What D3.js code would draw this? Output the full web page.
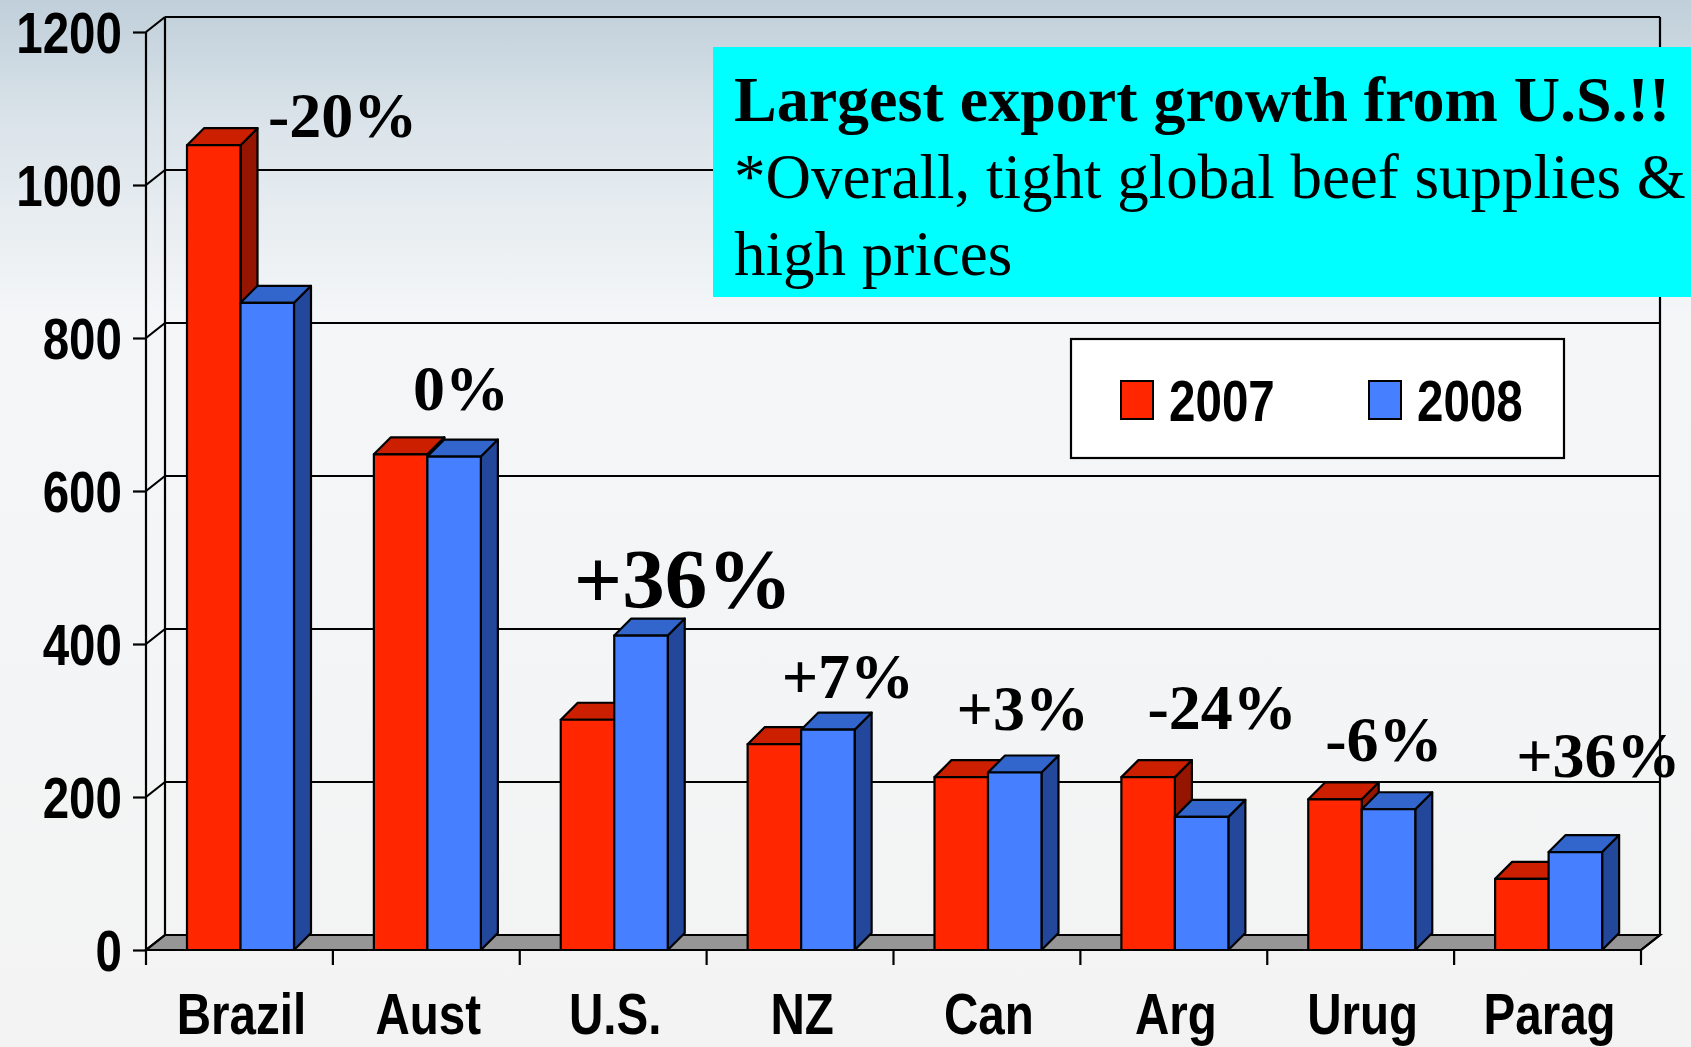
<!DOCTYPE html>
<html>
<head>
<meta charset="utf-8">
<script src="https://cdn.jsdelivr.net/npm/d3@7"></script>
<style>
  html, body { margin: 0; padding: 0; overflow: hidden; }
  svg { display: block; }
</style>
</head>
<body>
<div class="chart"></div>
<script>
const categories = ["Brazil", "Aust", "U.S.", "NZ", "Can", "Arg", "Urug", "Parag"];
const series = ["2007", "2008"];
const values2007 = [1052, 648, 301, 269, 226, 226, 197, 93];
const values2008 = [846, 645, 411, 288, 232, 174, 184, 128];
const yTicks = [0, 200, 400, 600, 800, 1000, 1200];
const changeLabels = ["-20%", "0%", "+36%", "+7%", "+3%", "-24%", "-6%", "+36%"];
const noteLines = ["Largest export growth from U.S.!!", "*Overall, tight global beef supplies &", "high prices"];

// where the change labels sit: px from the band start, and baseline in data units
const noteX = [122, 80, 54, 75, 63, 67, 58, 62];
const noteY = [1063, 706, 447, 329, 288, 289, 247, 226];
const noteSize = [64, 64, 85, 64, 64, 64, 64, 64];

const width = 1691;
const height = 1047;
const sans = "'Liberation Sans', Arial, Helvetica, sans-serif";
const serif = "'Liberation Serif', 'Times New Roman', serif";
const squeeze = 0.82; // the slide used a narrow bold sans

const svg = d3.select(".chart").append("svg").attr("width", width).attr("height", height);

const defs = svg.append("defs");
const bg = defs.append("linearGradient").attr("id", "bg").attr("x1", 0).attr("y1", 0).attr("x2", 0).attr("y2", 1);
bg.append("stop").attr("offset", "0").attr("stop-color", "#c0cfda");
bg.append("stop").attr("offset", "0.12").attr("stop-color", "#dbe4ea");
bg.append("stop").attr("offset", "0.3").attr("stop-color", "#f4f6f8");
bg.append("stop").attr("offset", "1").attr("stop-color", "#f3f3f3");
svg.append("rect").attr("width", width).attr("height", height).attr("fill", "url(#bg)");

// front plane of the plot and the depth shift of the walls
const x0 = 146, x1 = 1641;
const wdx = 19, wdy = -15;
const bdx = 17, bdy = -17;

const x_scale = d3.scaleBand().domain(categories).range([x0, x1]);
const sub_scale = d3.scaleBand().domain(series).range([41, 148]);
const y_scale = d3.scaleLinear().domain([0, 1200]).range([950, 32]);

const colors = {
  "2007": { front: "#ff2600", top: "#cc1f00", side: "#951500" },
  "2008": { front: "#467fff", top: "#3366cc", side: "#23479a" }
};

// walls and grid
const grid = svg.append("g").attr("stroke", "#000").attr("stroke-width", 2.2).attr("fill", "none");
grid.append("path")
  .attr("d", `M${x0},${y_scale(0)}L${x1},${y_scale(0)}L${x1 + wdx},${y_scale(0) + wdy}L${x0 + wdx},${y_scale(0) + wdy}Z`)
  .attr("fill", "#969696");
grid.selectAll("line.grid")
  .data(yTicks.filter(d => d > 0))
  .join("line")
  .attr("class", "grid")
  .attr("x1", x0 + wdx).attr("x2", x1 + wdx)
  .attr("y1", d => y_scale(d) + wdy).attr("y2", d => y_scale(d) + wdy);
grid.selectAll("line.diag")
  .data(yTicks)
  .join("line")
  .attr("class", "diag")
  .attr("x1", x0).attr("x2", x0 + wdx)
  .attr("y1", d => y_scale(d)).attr("y2", d => y_scale(d) + wdy);
grid.append("line").attr("x1", x0 + wdx).attr("x2", x0 + wdx)
  .attr("y1", y_scale(1200) + wdy).attr("y2", y_scale(0) + wdy);
grid.append("line").attr("x1", x1 + wdx).attr("x2", x1 + wdx)
  .attr("y1", y_scale(1200) + wdy).attr("y2", y_scale(0) + wdy);
grid.append("line").attr("x1", x1).attr("x2", x1 + wdx)
  .attr("y1", y_scale(0)).attr("y2", y_scale(0) + wdy);

// bars
const rows = [];
categories.forEach((c, i) => {
  rows.push({ cat: c, s: "2007", v: values2007[i] });
  rows.push({ cat: c, s: "2008", v: values2008[i] });
});
const bars = svg.append("g").attr("stroke", "#000").attr("stroke-width", 2.2).attr("stroke-linejoin", "round");
rows.forEach(d => {
  const bx = x_scale(d.cat) + sub_scale(d.s);
  const bw = sub_scale.bandwidth();
  const top = y_scale(d.v), base = y_scale(0);
  const g = bars.append("g");
  g.append("path")
    .attr("d", `M${bx + bw},${base}L${bx + bw + bdx},${base + bdy}L${bx + bw + bdx},${top + bdy}L${bx + bw},${top}Z`)
    .attr("fill", colors[d.s].side);
  g.append("path")
    .attr("d", `M${bx},${top}L${bx + bdx},${top + bdy}L${bx + bw + bdx},${top + bdy}L${bx + bw},${top}Z`)
    .attr("fill", colors[d.s].top);
  g.append("rect")
    .attr("x", bx).attr("y", top).attr("width", bw).attr("height", base - top)
    .attr("fill", colors[d.s].front);
});

// axes on the front plane
const y_axis = svg.append("g").attr("transform", `translate(${x0},0)`)
  .call(d3.axisLeft(y_scale).tickValues(yTicks).tickSize(13).tickPadding(10).tickFormat(d3.format("d")));
y_axis.select(".domain").attr("stroke", "#000").attr("stroke-width", 2.2).attr("d", `M0,${y_scale(1200)}V965`);
y_axis.selectAll(".tick line").attr("stroke", "#000").attr("stroke-width", 2.2);
y_axis.selectAll(".tick text")
  .attr("font-family", sans).attr("font-weight", "bold").attr("font-size", 58).attr("fill", "#000")
  .attr("x", -24 / squeeze).attr("dy", "0.35em")
  .attr("transform", `scale(${squeeze},1)`);

const x_axis = svg.append("g").attr("transform", `translate(0,${y_scale(0)})`)
  .call(d3.axisBottom(x_scale).tickSize(0).tickPadding(0));
x_axis.select(".domain").attr("stroke", "#000").attr("stroke-width", 2.2).attr("d", `M${x0},0H${x1}`);
x_axis.selectAll(".tick text")
  .attr("font-family", sans).attr("font-weight", "bold").attr("font-size", 58).attr("fill", "#000")
  .attr("x", 2 / squeeze).attr("y", 84).attr("dy", 0)
  .attr("transform", `scale(${squeeze},1)`);
svg.append("g").selectAll("line")
  .data(categories.map(c => x_scale(c) + x_scale.bandwidth()))
  .join("line")
  .attr("x1", d => d).attr("x2", d => d)
  .attr("y1", y_scale(0)).attr("y2", 965)
  .attr("stroke", "#000").attr("stroke-width", 2.2);

// change labels
svg.append("g").selectAll("text")
  .data(changeLabels)
  .join("text")
  .attr("x", (d, i) => x_scale(categories[i]) + noteX[i])
  .attr("y", (d, i) => y_scale(noteY[i]))
  .attr("font-family", serif).attr("font-weight", "bold")
  .attr("font-size", (d, i) => noteSize[i])
  .text(d => d);

// legend
const legend = svg.append("g").attr("transform", "translate(1071,339)");
legend.append("rect").attr("width", 493).attr("height", 119)
  .attr("fill", "#fff").attr("stroke", "#000").attr("stroke-width", 2.2);
const items = legend.selectAll("g").data(series).join("g")
  .attr("transform", (d, i) => `translate(${50 + i * 248},42)`);
items.append("rect").attr("width", 32).attr("height", 38)
  .attr("fill", d => colors[d].front).attr("stroke", "#000").attr("stroke-width", 2);
items.append("g").attr("transform", "translate(48,40)")
  .append("text")
  .attr("transform", `scale(${squeeze},1)`)
  .attr("font-family", sans).attr("font-weight", "bold").attr("font-size", 58)
  .text(d => d);

// note box
const note = svg.append("g");
note.append("rect").attr("x", 713).attr("y", 47).attr("width", 1000).attr("height", 250).attr("fill", "#00ffff");
note.selectAll("text").data(noteLines).join("text")
  .attr("x", 734).attr("y", (d, i) => 121 + i * 77)
  .attr("font-family", serif)
  .attr("font-size", (d, i) => i === 0 ? 64 : 63)
  .attr("font-weight", (d, i) => i === 0 ? "bold" : "normal")
  .text(d => d);
</script>
</body>
</html>
